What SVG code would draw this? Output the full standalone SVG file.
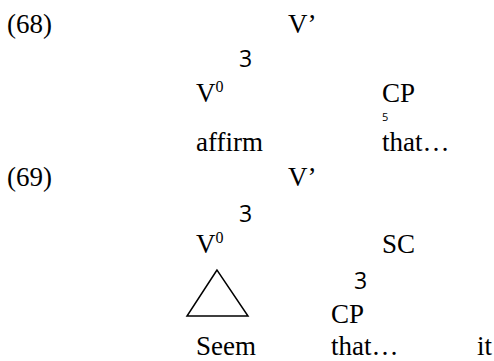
<svg xmlns="http://www.w3.org/2000/svg" width="494" height="361" viewBox="0 0 494 361">
<style>
.t{font-family:"Liberation Serif","Times New Roman",serif;font-size:27px;fill:#000}
.s{font-family:"Open Sans","DejaVu Sans",sans-serif;font-size:23px;fill:#000}
.sup{font-size:16px}
.tiny{font-family:"Open Sans","DejaVu Sans",sans-serif;font-size:11px;fill:#000}
</style>
<rect width="494" height="361" fill="#fff"/>
<g id="ex68">
<text class="t" x="7" y="33">(68)</text>
<g id="n68-vbar"><text class="t" x="288" y="33">V’</text></g>
<text class="s" x="239" y="67">3</text>
<g id="n68-v0"><text class="t" x="196" y="102">V<tspan class="sup" dy="-10">0</tspan></text></g>
<g id="n68-cp"><text class="t" x="382" y="102">CP</text></g>
<text class="tiny" x="382" y="121">5</text>
<g id="n68-affirm"><text class="t" x="196" y="151">affirm</text></g>
<g id="n68-that"><text class="t" x="382" y="151">that…</text></g>
</g>
<g id="ex69">
<text class="t" x="7" y="186">(69)</text>
<g id="n69-vbar"><text class="t" x="288" y="186">V’</text></g>
<text class="s" x="239" y="222">3</text>
<g id="n69-v0"><text class="t" x="196" y="253">V<tspan class="sup" dy="-10">0</tspan></text></g>
<g id="n69-sc"><text class="t" x="382" y="253">SC</text></g>
<g id="connectors"><polygon points="217,270 187,316 248,316" fill="none" stroke="#000" stroke-width="1.5"/></g>
<text class="s" x="354" y="289">3</text>
<g id="n69-cp"><text class="t" x="331" y="323">CP</text></g>
<g id="n69-seem"><text class="t" x="196" y="355">Seem</text></g>
<g id="n69-that"><text class="t" x="331" y="355">that…</text></g>
<g id="n69-it"><text class="t" x="477" y="355">it</text></g>
</g>
</svg>
